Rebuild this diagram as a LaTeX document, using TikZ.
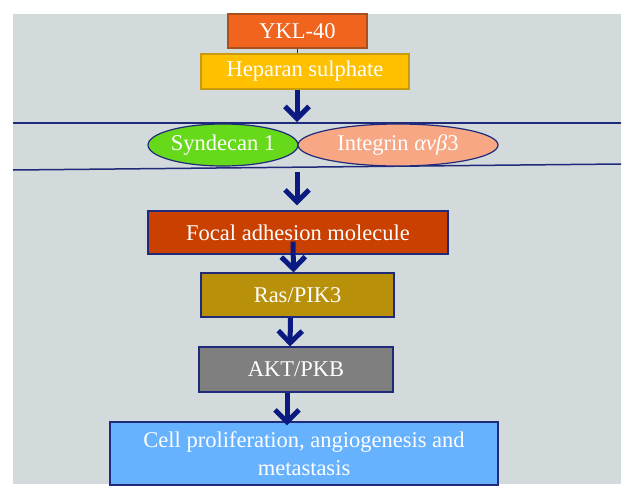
\documentclass[tikz,border=0pt]{standalone}
\usepackage{fontspec}
\setmainfont{Liberation Serif}
\usetikzlibrary{arrows.meta,shapes.geometric,calc}
\definecolor{bg}{HTML}{D3DADC}
\definecolor{navy}{HTML}{1F2A7A}
\definecolor{arrowblue}{HTML}{0A1A80}
\definecolor{ykl}{HTML}{F0641E}
\definecolor{yklb}{HTML}{A8501E}
\definecolor{hep}{HTML}{FFC000}
\definecolor{hepb}{HTML}{C89A10}
\definecolor{syn}{HTML}{66D91A}
\definecolor{integ}{HTML}{F7A784}
\definecolor{fam}{HTML}{C94000}
\definecolor{ras}{HTML}{B8900A}
\definecolor{akt}{HTML}{7F7F7F}
\definecolor{cellc}{HTML}{66B2FF}
\tikzset{
  box/.style={draw=navy,line width=1.2pt,text=white,font=\fontsize{22.5}{28}\selectfont,inner sep=0pt,align=center},
  oval/.style={ellipse,draw=navy,line width=1.2pt,text=white,font=\fontsize{22.5}{28}\selectfont,inner sep=0pt},
  arr/.style={draw=arrowblue,line width=5pt,-{Straight Barb[length=12pt,width=24pt,line width=5pt]}},
  memb/.style={draw=navy,line width=1.5pt}
}
\begin{document}
\begin{tikzpicture}[x=1pt,y=-1pt]
\useasboundingbox (0,0) rectangle (636,499);
\fill[bg] (13,14) rectangle (621,484);
% membrane lines
\coordinate (l1a) at (13,123); \coordinate (l1b) at (621,123);
\coordinate (l2a) at (13,170); \coordinate (l2b) at (621,164);
\draw[memb] (l1a) -- (l1b);
\draw[memb] (l2a) -- (l2b);
% nodes
\node[box,fill=ykl,draw=yklb,minimum width=139pt,minimum height=34pt] (ykl) at (297.5,31) {YKL-40};
\node[box,fill=hep,draw=hepb,minimum width=208pt,minimum height=35pt] (hep) at (305,71.5) {Heparan sulphate};
\node[oval,fill=syn,minimum width=150pt,minimum height=42pt] (syn) at (223,145) {Syndecan 1};
\node[oval,fill=integ,minimum width=200pt,minimum height=42pt] (integ) at (398,145) {Integrin \textit{αvβ}3};
\node[box,fill=fam,minimum width=300pt,minimum height=43pt] (fam) at (298,232.5) {Focal adhesion molecule};
\node[box,fill=ras,minimum width=193pt,minimum height=44pt] (ras) at (297.5,295) {Ras/PIK3};
\node[box,fill=akt,minimum width=194pt,minimum height=45pt] (akt) at (296,369.5) {AKT/PKB};
\node[box,fill=cellc,minimum width=388pt,minimum height=63pt] (cell) at (304,453.5) {Cell proliferation, angiogenesis and\\metastasis};
% connectors
\coordinate (m1) at (297,123);
\coordinate (m2) at (297,172);
\draw[navy,line width=1.2pt] (ykl.south) -- (ykl.south |- hep.north);
\draw[arr] ($(hep.south)+(-8,0)$) -- ($(m1)+(0,-1)$);
\draw[arr] (m2) -- ($(fam.north)+(-1,-5)$);
\draw[arr] ($(fam.south)+(-5,-13)$) -- ($(ras.north)+(-4,0)$);
\draw[arr] ($(ras.south)+(-7,0)$) -- ($(akt.north)+(-6,0)$);
\draw[arr] ($(akt.south)+(-9,0)$) -- ($(cell.north)+(-17,4)$);
\end{tikzpicture}
\end{document}
